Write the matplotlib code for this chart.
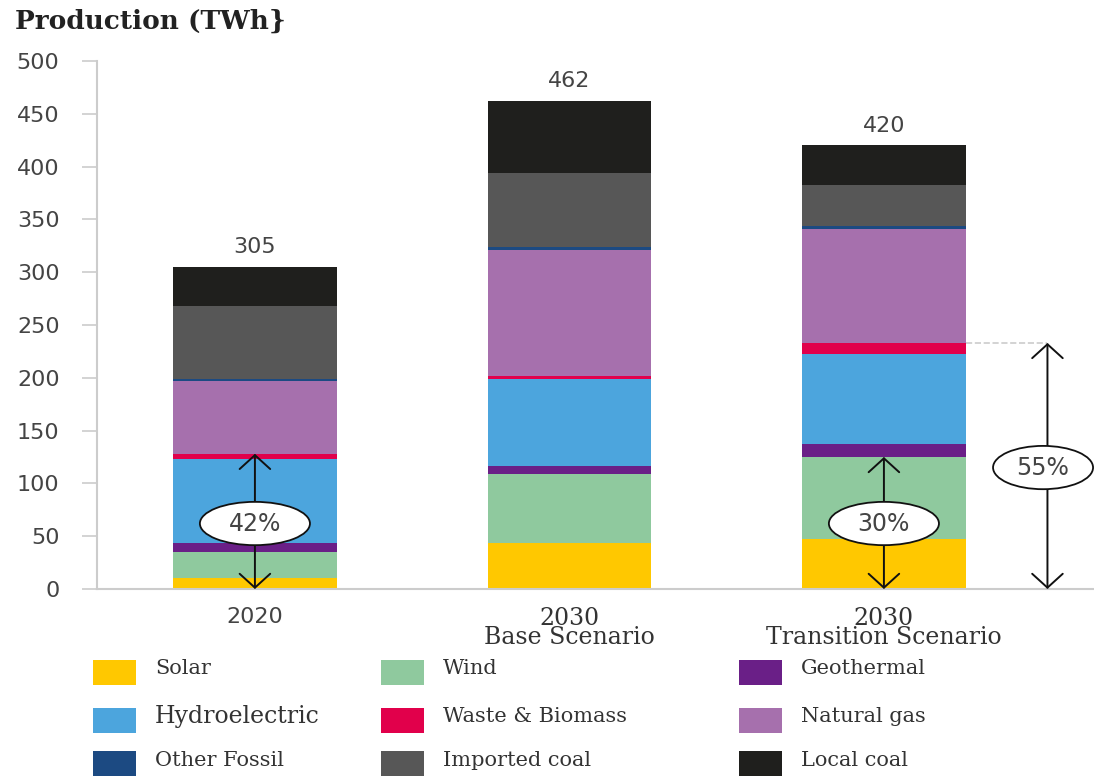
import matplotlib
matplotlib.use('Agg')
import matplotlib.pyplot as plt
from matplotlib.patches import Ellipse, Rectangle

### Data ###

scenarios = ['2020', '2030\nBase Scenario', '2030\nTransition Scenario']
totals = [305, 462, 420]

sources = ['Solar', 'Wind', 'Geothermal', 'Hydroelectric', 'Waste & Biomass',
           'Natural gas', 'Other Fossil', 'Imported coal', 'Local coal']

solar = [10, 44, 47]
wind = [25, 65, 78]
geothermal = [9, 7, 12]
hydro = [79, 83, 86]
waste = [5, 3, 10]
natural_gas = [69, 119, 108]
other_fossil = [2, 3, 3]
imported_coal = [69, 70, 39]
local_coal = [37, 68, 37]

colors = ['#FFC800', '#8FC99E', '#6A1F87', '#4CA5DD', '#E1004B',
          '#A670AD', '#1C4A82', '#575757', '#1F1F1D']

# renewable shares: (bar, share label, upper value)
shares = [(0, '42%', 128), (2, '30%', 125)]
total_share = ('55%', 233)

### Plot ###

fig = plt.figure(figsize=(10.94, 7.76), dpi=100)
ax = fig.add_axes([0.0887, 0.241, 0.9113, 0.6804])

x = [0, 1, 2]
series = [solar, wind, geothermal, hydro, waste, natural_gas,
          other_fossil, imported_coal, local_coal]
bottom = [0, 0, 0]
for name, vals, col in zip(sources, series, colors):
    ax.bar(x, vals, width=0.52, bottom=bottom, color=col, label=name, zorder=2)
    bottom = [b + v for b, v in zip(bottom, vals)]

# totals above the bars
for xi, t in zip(x, totals):
    ax.annotate(str(t), (xi, t), xytext=(0, 7), textcoords='offset points',
                ha='center', va='bottom', fontsize=16, color='#444444',
                family='DejaVu Sans')

# axes styling
ax.set_ylim(0, 500)
ax.set_xlim(-0.502, 2.668)
ax.set_yticks(range(0, 501, 50))
ax.tick_params(axis='y', length=11, width=1.2, color='#cccccc', pad=16,
               labelsize=16, labelcolor='#444444')
ax.tick_params(axis='x', length=0, pad=13)
for side in ['top', 'right']:
    ax.spines[side].set_visible(False)
ax.spines['left'].set_color('#cccccc')
ax.spines['left'].set_linewidth(1.5)
ax.spines['bottom'].set_color('#cccccc')
ax.spines['bottom'].set_linewidth(1.5)

ax.set_xticks(x)
ax.set_xticklabels(scenarios, family='DejaVu Serif', fontsize=17,
                   color='#333333', linespacing=0.8, va='top')
ax.get_xticklabels()[0].set_family('DejaVu Sans')
ax.get_xticklabels()[0].set_fontsize(16)
ax.get_xticklabels()[0].set_color('#444444')

# share arrows with ellipse labels
arrow_style = '<->,head_length=0.5,head_width=0.55'
for xi, label, top in shares:
    ax.annotate('', xy=(xi, top), xytext=(xi, 0),
                arrowprops=dict(arrowstyle=arrow_style, color='#111111',
                                lw=1.4, mutation_scale=20,
                                shrinkA=0, shrinkB=0), zorder=3)
    ax.add_patch(Ellipse((xi, 62), 0.35, 41, facecolor='white',
                         edgecolor='#111111', lw=1.3, zorder=4))
    ax.text(xi, 62, label, ha='center', va='center', fontsize=17,
            color='#444444', zorder=5)

x55 = 2.52
ax.plot([2.26, x55], [total_share[1], total_share[1]], ls='--',
        color='#cccccc', lw=1.2, zorder=1)
ax.annotate('', xy=(x55, total_share[1]), xytext=(x55, 0),
            arrowprops=dict(arrowstyle=arrow_style, color='#111111',
                            lw=1.4, mutation_scale=20,
                            shrinkA=0, shrinkB=0), zorder=3)
ax.add_patch(Ellipse((2.506, 115), 0.318, 41, facecolor='white',
                     edgecolor='#111111', lw=1.3, zorder=4, clip_on=False))
ax.text(2.506, 115, total_share[0], ha='center', va='center', fontsize=17,
        color='#444444', zorder=5)

# title
fig.text(15 / 1094, 1 - 29 / 776, 'Production (TWh}', family='DejaVu Serif',
         fontweight='bold', fontsize=19, color='#222222', va='baseline')

# legend laid out in three columns
W, H = 1094, 776
legend_cols = [93, 381, 739]
legend_rows = [672, 720, 763]
order = [[0, 3, 6], [1, 4, 7], [2, 5, 8]]
for cx, idxs in zip(legend_cols, order):
    for ry, i in zip(legend_rows, idxs):
        fig.patches.append(Rectangle((cx / W, 1 - (ry + 12.5) / H), 43 / W, 25 / H,
                                     transform=fig.transFigure,
                                     facecolor=colors[i], edgecolor='none'))
        size = 17 if sources[i] == 'Hydroelectric' else 15
        fig.text((cx + 62) / W, 1 - (ry - 3) / H, sources[i], family='DejaVu Serif',
                 fontsize=size, color='#333333', va='center')

fig.savefig('out.png', dpi=100)
